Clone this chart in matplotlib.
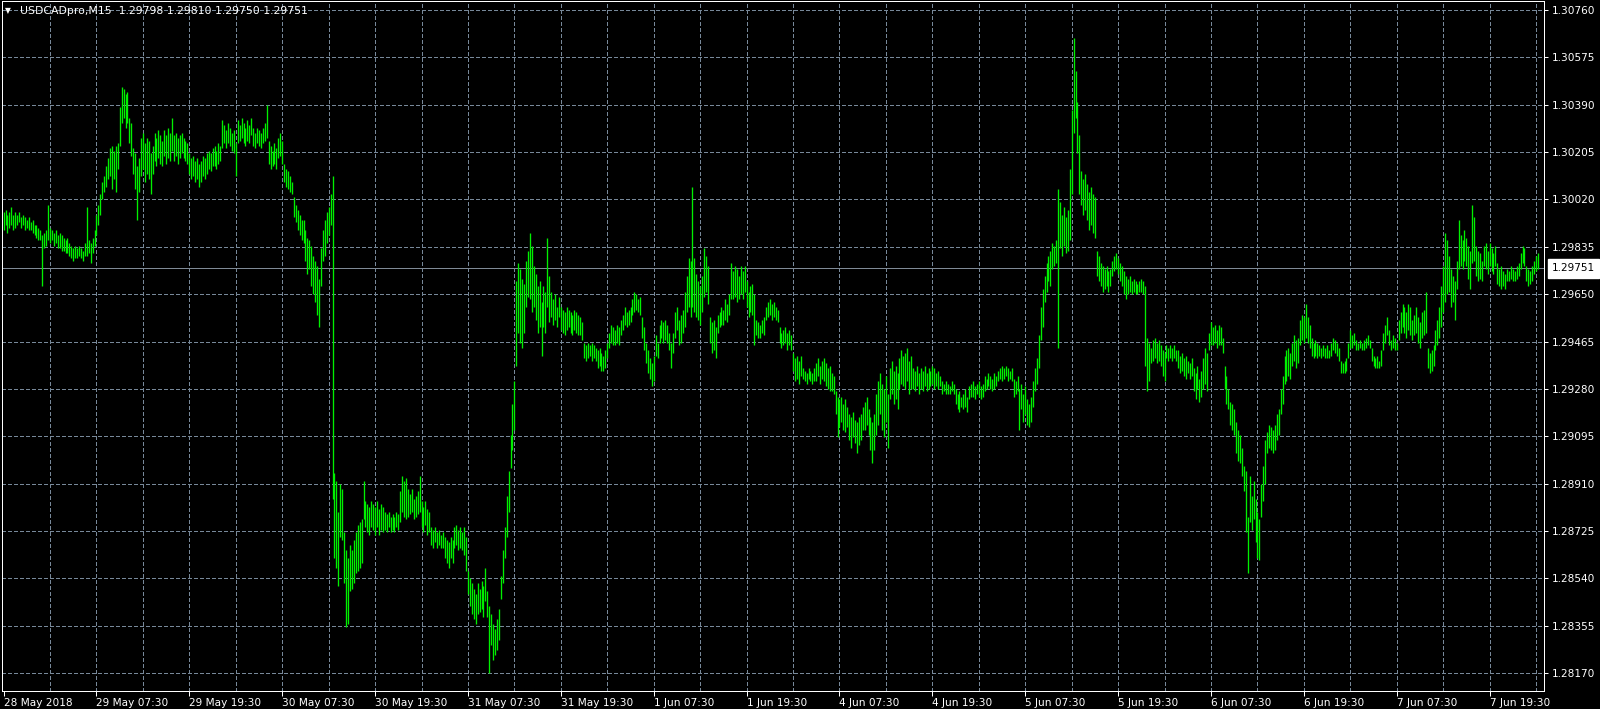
import matplotlib
matplotlib.use('Agg')
import matplotlib.pyplot as plt
import numpy as np
from matplotlib.transforms import blended_transform_factory

# ---------------- data (USDCAD M15 bars) ----------------
high = [
1.2997,1.2998,1.2996,1.2997,1.2999,1.2996,1.2997,1.2996,1.2997,1.2995,
1.2996,1.2995,1.2994,1.2995,1.2993,1.2994,1.2992,1.2992,1.2991,1.2990,
1.2988,1.2989,1.2990,1.3000,1.2991,1.2990,1.2989,1.2990,1.2988,1.2989,
1.2988,1.2987,1.2986,1.2987,1.2985,1.2984,1.2983,1.2984,1.2983,1.2984,
1.2983,1.2982,1.2985,1.2999,1.2986,1.2985,1.2987,1.2990,1.2996,1.3000,
1.3004,1.3009,1.3011,1.3015,1.3018,1.3022,1.3023,1.3021,1.3023,1.3024,
1.3038,1.3046,1.3045,1.3043,1.3044,1.3034,1.3032,1.3022,1.3020,1.3015,
1.3018,1.3026,1.3028,1.3024,1.3026,1.3025,1.3020,1.3023,1.3028,1.3026,
1.3029,1.3027,1.3025,1.3029,1.3027,1.3030,1.3028,1.3034,1.3027,1.3028,
1.3026,1.3027,1.3028,1.3026,1.3025,1.3024,1.3020,1.3018,1.3019,1.3017,
1.3018,1.3016,1.3017,1.3019,1.3018,1.3020,1.3021,1.3020,1.3022,1.3023,
1.3021,1.3024,1.3023,1.3033,1.3031,1.3029,1.3032,1.3030,1.3028,1.3029,
1.3024,1.3033,1.3031,1.3034,1.3032,1.3030,1.3033,1.3031,1.3034,1.3030,
1.3028,1.3030,1.3029,1.3028,1.3030,1.3032,1.3039,1.3025,1.3023,1.3021,
1.3024,1.3022,1.3026,1.3028,1.3025,1.3016,1.3014,1.3013,1.3011,1.3009,
1.3003,1.3000,1.2998,1.2996,1.2994,1.2994,1.2990,1.2987,1.2986,1.2984,
1.2980,1.2978,1.2976,1.2971,1.2983,1.2990,1.2994,1.2997,1.2999,1.3004,
1.3011,1.2895,1.2892,1.2880,1.2891,1.2889,1.2872,1.2865,1.2862,1.2867,
1.2865,1.2869,1.2872,1.2875,1.2876,1.2877,1.2892,1.2884,1.2883,1.2882,
1.2884,1.2883,1.2882,1.2884,1.2881,1.2883,1.2882,1.2880,1.2879,1.2880,
1.2878,1.2879,1.2878,1.2880,1.2879,1.2888,1.2894,1.2892,1.2893,1.2889,
1.2887,1.2889,1.2885,1.2886,1.2888,1.2894,1.2884,1.2882,1.2884,1.2881,
1.2880,1.2874,1.2873,1.2874,1.2872,1.2873,1.2871,1.2872,1.2870,1.2869,
1.2868,1.2870,1.2869,1.2874,1.2875,1.2873,1.2874,1.2872,1.2874,1.2870,
1.2857,1.2854,1.2852,1.2850,1.2848,1.2852,1.2850,1.2853,1.2851,1.2858,
1.2849,1.2843,1.2840,1.2836,1.2834,1.2838,1.2842,1.2855,1.2865,1.2874,
1.2886,1.2896,1.2910,1.2922,1.2931,1.2970,1.2977,1.2975,1.2971,1.2969,
1.2978,1.2982,1.2989,1.2984,1.2976,1.2973,1.2968,1.2970,1.2962,1.2968,
1.2966,1.2987,1.2972,1.2966,1.2963,1.2965,1.2960,1.2964,1.2960,1.2959,
1.2958,1.2960,1.2959,1.2958,1.2957,1.2959,1.2958,1.2957,1.2956,1.2954,
1.2946,1.2945,1.2946,1.2945,1.2946,1.2945,1.2944,1.2943,1.2944,1.2942,
1.2941,1.2943,1.2946,1.2950,1.2953,1.2952,1.2951,1.2953,1.2952,1.2955,
1.2957,1.2960,1.2958,1.2959,1.2960,1.2963,1.2966,1.2965,1.2963,1.2964,
1.2956,1.2952,1.2946,1.2943,1.2940,1.2938,1.2941,1.2949,1.2946,1.2953,
1.2955,1.2954,1.2955,1.2953,1.2950,1.2946,1.2950,1.2958,1.2960,1.2955,
1.2957,1.2959,1.2966,1.2972,1.2979,1.2978,1.3007,1.2979,1.2973,1.2970,
1.2968,1.2972,1.2983,1.2980,1.2976,1.2956,1.2954,1.2955,1.2952,1.2957,
1.2958,1.2960,1.2959,1.2963,1.2961,1.2965,1.2977,1.2974,1.2976,1.2975,
1.2972,1.2976,1.2974,1.2976,1.2970,1.2966,1.2968,1.2969,1.2965,1.2955,
1.2954,1.2953,1.2955,1.2956,1.2960,1.2962,1.2963,1.2961,1.2962,1.2960,
1.2959,1.2952,1.2950,1.2951,1.2952,1.2950,1.2951,1.2949,1.2942,1.2940,
1.2941,1.2939,1.2941,1.2936,1.2935,1.2934,1.2936,1.2935,1.2934,1.2936,
1.2938,1.2940,1.2937,1.2939,1.2940,1.2938,1.2936,1.2937,1.2934,1.2933,
1.2927,1.2925,1.2924,1.2925,1.2922,1.2924,1.2921,1.2918,1.2917,1.2919,
1.2916,1.2915,1.2917,1.2918,1.2921,1.2923,1.2925,1.2920,1.2917,1.2915,
1.2918,1.2926,1.2931,1.2934,1.2930,1.2928,1.2933,1.2926,1.2936,1.2939,
1.2935,1.2937,1.2934,1.2940,1.2943,1.2941,1.2942,1.2944,1.2939,1.2941,
1.2936,1.2935,1.2937,1.2934,1.2936,1.2935,1.2937,1.2934,1.2936,1.2935,
1.2937,1.2936,1.2934,1.2935,1.2933,1.2931,1.2930,1.2931,1.2930,1.2929,
1.2931,1.2930,1.2928,1.2926,1.2927,1.2925,1.2926,1.2928,1.2925,1.2929,
1.2930,1.2931,1.2929,1.2930,1.2931,1.2929,1.2930,1.2933,1.2932,1.2934,
1.2933,1.2932,1.2934,1.2933,1.2935,1.2936,1.2937,1.2936,1.2937,1.2936,
1.2935,1.2936,1.2932,1.2931,1.2933,1.2928,1.2930,1.2926,1.2929,1.2924,
1.2922,1.2925,1.2931,1.2936,1.2940,1.2949,1.2960,1.2967,1.2972,1.2977,
1.2980,1.2982,1.2985,1.2984,1.2986,1.3006,1.3001,1.2996,1.2999,1.2995,
1.2998,1.3014,1.3037,1.3065,1.3052,1.3040,1.3027,1.3013,1.3010,1.3012,
1.3008,1.3005,1.3007,1.3004,1.3003,1.2982,1.2980,1.2977,1.2976,1.2975,
1.2976,1.2974,1.2975,1.2978,1.2980,1.2981,1.2979,1.2977,1.2976,1.2974,
1.2972,1.2971,1.2972,1.2970,1.2971,1.2970,1.2969,1.2970,1.2971,1.2970,
1.2968,1.2948,1.2946,1.2944,1.2947,1.2948,1.2946,1.2947,1.2945,1.2943,
1.2942,1.2945,1.2944,1.2945,1.2944,1.2945,1.2943,1.2943,1.2941,1.2942,
1.2940,1.2941,1.2939,1.2938,1.2940,1.2936,1.2934,1.2937,1.2932,1.2935,
1.2940,1.2944,1.2942,1.2950,1.2954,1.2952,1.2953,1.2951,1.2953,1.2952,
1.2948,1.2937,1.2933,1.2928,1.2923,1.2922,1.2920,1.2915,1.2912,1.2910,
1.2905,1.2898,1.2896,1.2878,1.2894,1.2886,1.2892,1.2885,1.2880,1.2877,
1.2891,1.2898,1.2908,1.2911,1.2914,1.2913,1.2912,1.2914,1.2918,1.2920,
1.2928,1.2933,1.2941,1.2943,1.2944,1.2942,1.2946,1.2949,1.2947,1.2948,
1.2955,1.2957,1.2956,1.2961,1.2956,1.2953,1.2948,1.2946,1.2947,1.2946,
1.2945,1.2944,1.2945,1.2944,1.2945,1.2943,1.2946,1.2948,1.2947,1.2946,
1.2944,1.2939,1.2938,1.2939,1.2940,1.2946,1.2951,1.2949,1.2950,1.2947,
1.2946,1.2947,1.2946,1.2947,1.2948,1.2949,1.2947,1.2944,1.2941,1.2940,
1.2941,1.2939,1.2943,1.2950,1.2953,1.2956,1.2951,1.2947,1.2949,1.2948,
1.2946,1.2955,1.2958,1.2961,1.2960,1.2958,1.2961,1.2960,1.2955,1.2957,
1.2960,1.2956,1.2954,1.2958,1.2959,1.2966,1.2944,1.2942,1.2943,1.2945,
1.2951,1.2955,1.2960,1.2968,1.2976,1.2989,1.2986,1.2980,1.2975,1.2972,
1.2970,1.2978,1.2994,1.2988,1.2986,1.2990,1.2987,1.2984,1.2982,1.3000,
1.2995,1.2984,1.2982,1.2981,1.2978,1.2984,1.2985,1.2982,1.2985,1.2983,
1.2981,1.2984,1.2977,1.2975,1.2976,1.2974,1.2973,1.2975,1.2974,1.2976,
1.2975,1.2974,1.2976,1.2977,1.2981,1.2984,1.2983,1.2976,1.2975,1.2974,
1.2976,1.2978,1.2980,1.2981,
]
low = [
1.2990,1.2992,1.2989,1.2991,1.2992,1.2990,1.2991,1.2992,1.2993,1.2991,
1.2992,1.2990,1.2991,1.2990,1.2990,1.2989,1.2988,1.2987,1.2986,1.2986,
1.2968,1.2983,1.2984,1.2986,1.2985,1.2986,1.2984,1.2985,1.2983,1.2983,
1.2982,1.2982,1.2981,1.2981,1.2980,1.2979,1.2978,1.2979,1.2979,1.2980,
1.2979,1.2978,1.2980,1.2980,1.2981,1.2977,1.2981,1.2984,1.2988,1.2992,
1.2996,1.3002,1.3005,1.3007,1.3010,1.3011,1.3006,1.3010,1.3005,1.3014,
1.3023,1.3032,1.3034,1.3030,1.3032,1.3024,1.3019,1.3012,1.3006,1.2994,
1.3005,1.3011,1.3014,1.3009,1.3012,1.3010,1.3004,1.3012,1.3017,1.3015,
1.3018,1.3016,1.3015,1.3019,1.3016,1.3018,1.3017,1.3021,1.3017,1.3019,
1.3016,1.3018,1.3020,1.3018,1.3017,1.3016,1.3012,1.3010,1.3011,1.3009,
1.3010,1.3007,1.3009,1.3011,1.3010,1.3012,1.3014,1.3013,1.3015,1.3015,
1.3014,1.3016,1.3017,1.3022,1.3024,1.3022,1.3024,1.3023,1.3021,1.3020,
1.3011,1.3024,1.3025,1.3026,1.3024,1.3023,1.3025,1.3024,1.3027,1.3023,
1.3022,1.3024,1.3023,1.3022,1.3024,1.3025,1.3026,1.3016,1.3014,1.3015,
1.3016,1.3014,1.3018,1.3019,1.3016,1.3009,1.3007,1.3006,1.3005,1.3004,
1.2995,1.2993,1.2990,1.2988,1.2986,1.2985,1.2978,1.2973,1.2975,1.2968,
1.2965,1.2962,1.2957,1.2952,1.2968,1.2978,1.2980,1.2985,1.2988,1.2992,
1.2885,1.2862,1.2858,1.2851,1.2870,1.2869,1.2852,1.2835,1.2836,1.2849,
1.2850,1.2852,1.2856,1.2857,1.2858,1.2860,1.2877,1.2874,1.2872,1.2871,
1.2874,1.2873,1.2871,1.2874,1.2871,1.2873,1.2872,1.2873,1.2872,1.2874,
1.2872,1.2873,1.2872,1.2874,1.2873,1.2876,1.2880,1.2878,1.2877,1.2878,
1.2879,1.2880,1.2877,1.2878,1.2879,1.2880,1.2874,1.2872,1.2875,1.2871,
1.2872,1.2867,1.2866,1.2868,1.2866,1.2867,1.2866,1.2866,1.2862,1.2860,
1.2858,1.2862,1.2860,1.2866,1.2867,1.2865,1.2866,1.2865,1.2863,1.2857,
1.2848,1.2843,1.2840,1.2838,1.2836,1.2840,1.2841,1.2842,1.2839,1.2845,
1.2839,1.2817,1.2828,1.2822,1.2824,1.2826,1.2830,1.2846,1.2852,1.2862,
1.2870,1.2880,1.2897,1.2904,1.2912,1.2937,1.2950,1.2946,1.2944,1.2950,
1.2960,1.2964,1.2963,1.2958,1.2960,1.2955,1.2950,1.2952,1.2941,1.2952,
1.2950,1.2960,1.2954,1.2956,1.2953,1.2955,1.2952,1.2956,1.2951,1.2950,
1.2949,1.2951,1.2952,1.2950,1.2949,1.2951,1.2950,1.2949,1.2949,1.2947,
1.2940,1.2939,1.2940,1.2941,1.2939,1.2940,1.2939,1.2936,1.2937,1.2935,
1.2935,1.2936,1.2940,1.2944,1.2946,1.2945,1.2945,1.2946,1.2945,1.2949,
1.2951,1.2953,1.2952,1.2953,1.2954,1.2957,1.2958,1.2959,1.2958,1.2957,
1.2948,1.2943,1.2938,1.2934,1.2932,1.2929,1.2931,1.2941,1.2940,1.2946,
1.2948,1.2946,1.2947,1.2946,1.2943,1.2936,1.2942,1.2948,1.2951,1.2945,
1.2946,1.2950,1.2952,1.2958,1.2960,1.2956,1.2960,1.2958,1.2956,1.2955,
1.2953,1.2958,1.2964,1.2966,1.2961,1.2946,1.2942,1.2943,1.2940,1.2950,
1.2952,1.2953,1.2953,1.2955,1.2954,1.2957,1.2963,1.2963,1.2964,1.2962,
1.2963,1.2965,1.2963,1.2966,1.2960,1.2956,1.2958,1.2957,1.2945,1.2949,
1.2948,1.2948,1.2950,1.2949,1.2955,1.2956,1.2957,1.2955,1.2956,1.2955,
1.2954,1.2946,1.2944,1.2945,1.2946,1.2943,1.2945,1.2943,1.2935,1.2931,
1.2932,1.2930,1.2933,1.2932,1.2931,1.2930,1.2932,1.2931,1.2930,1.2931,
1.2931,1.2933,1.2930,1.2932,1.2931,1.2929,1.2928,1.2927,1.2927,1.2926,
1.2918,1.2909,1.2913,1.2915,1.2912,1.2911,1.2913,1.2908,1.2905,1.2909,
1.2907,1.2903,1.2906,1.2908,1.2912,1.2912,1.2914,1.2910,1.2904,1.2899,
1.2904,1.2910,1.2914,1.2918,1.2912,1.2909,1.2915,1.2905,1.2924,1.2926,
1.2922,1.2924,1.2920,1.2928,1.2930,1.2929,1.2928,1.2931,1.2926,1.2928,
1.2928,1.2927,1.2929,1.2926,1.2928,1.2927,1.2929,1.2927,1.2928,1.2929,
1.2930,1.2928,1.2929,1.2928,1.2929,1.2926,1.2927,1.2926,1.2926,1.2926,
1.2927,1.2926,1.2922,1.2920,1.2919,1.2921,1.2920,1.2921,1.2919,1.2924,
1.2925,1.2925,1.2924,1.2926,1.2925,1.2924,1.2925,1.2927,1.2928,1.2929,
1.2928,1.2927,1.2928,1.2929,1.2931,1.2932,1.2931,1.2932,1.2933,1.2931,
1.2932,1.2931,1.2925,1.2926,1.2927,1.2912,1.2920,1.2915,1.2918,1.2914,
1.2913,1.2915,1.2921,1.2927,1.2930,1.2936,1.2947,1.2952,1.2962,1.2966,
1.2970,1.2968,1.2975,1.2976,1.2977,1.2944,1.2983,1.2980,1.2984,1.2981,
1.2982,1.2986,1.3004,1.3028,1.3034,1.3020,1.3004,1.3000,1.2996,1.2998,
1.2994,1.2990,1.2992,1.2989,1.2987,1.2972,1.2970,1.2968,1.2966,1.2967,
1.2968,1.2966,1.2968,1.2972,1.2974,1.2975,1.2973,1.2970,1.2968,1.2965,
1.2963,1.2965,1.2966,1.2965,1.2966,1.2965,1.2965,1.2966,1.2966,1.2965,
1.2937,1.2927,1.2931,1.2938,1.2939,1.2940,1.2938,1.2939,1.2937,1.2933,
1.2931,1.2940,1.2939,1.2940,1.2939,1.2940,1.2939,1.2936,1.2934,1.2935,
1.2933,1.2932,1.2934,1.2932,1.2933,1.2927,1.2924,1.2928,1.2923,1.2925,
1.2928,1.2930,1.2927,1.2943,1.2945,1.2945,1.2946,1.2944,1.2945,1.2945,
1.2942,1.2928,1.2922,1.2920,1.2914,1.2912,1.2910,1.2903,1.2900,1.2899,
1.2894,1.2888,1.2872,1.2856,1.2876,1.2873,1.2877,1.2868,1.2862,1.2861,
1.2878,1.2884,1.2891,1.2903,1.2905,1.2904,1.2903,1.2904,1.2908,1.2910,
1.2918,1.2922,1.2930,1.2931,1.2933,1.2932,1.2937,1.2939,1.2936,1.2938,
1.2945,1.2947,1.2946,1.2948,1.2946,1.2944,1.2941,1.2940,1.2941,1.2940,
1.2941,1.2940,1.2941,1.2940,1.2940,1.2940,1.2941,1.2943,1.2942,1.2941,
1.2939,1.2934,1.2934,1.2934,1.2935,1.2940,1.2944,1.2944,1.2945,1.2943,
1.2943,1.2944,1.2943,1.2943,1.2944,1.2945,1.2944,1.2939,1.2937,1.2936,
1.2936,1.2936,1.2937,1.2943,1.2946,1.2949,1.2945,1.2943,1.2944,1.2943,
1.2943,1.2947,1.2950,1.2952,1.2950,1.2948,1.2951,1.2949,1.2947,1.2949,
1.2950,1.2946,1.2944,1.2948,1.2949,1.2950,1.2936,1.2934,1.2935,1.2937,
1.2943,1.2945,1.2948,1.2952,1.2958,1.2962,1.2965,1.2966,1.2960,1.2962,
1.2955,1.2967,1.2975,1.2976,1.2975,1.2978,1.2976,1.2971,1.2967,1.2977,
1.2978,1.2972,1.2970,1.2971,1.2970,1.2976,1.2975,1.2973,1.2976,1.2974,
1.2973,1.2976,1.2969,1.2968,1.2967,1.2968,1.2967,1.2970,1.2970,1.2971,
1.2970,1.2970,1.2971,1.2972,1.2975,1.2977,1.2976,1.2970,1.2968,1.2969,
1.2970,1.2973,1.2974,1.2975,
]

price_levels = [1.28170, 1.28355, 1.28540, 1.28725, 1.28910, 1.29095, 1.29280,
                1.29465, 1.29650, 1.29835, 1.30020, 1.30205, 1.30390, 1.30575, 1.30760]
time_labels = ["28 May 2018", "29 May 07:30", "29 May 19:30", "30 May 07:30",
               "30 May 19:30", "31 May 07:30", "31 May 19:30", "1 Jun 07:30",
               "1 Jun 19:30", "4 Jun 07:30", "4 Jun 19:30", "5 Jun 07:30",
               "5 Jun 19:30", "6 Jun 07:30", "6 Jun 19:30", "7 Jun 07:30",
               "7 Jun 19:30"]
last_price = 1.29751
header = "USDCADpro,M15  1.29798 1.29810 1.29750 1.29751"

# ---------------- drawing ----------------
plt.rcParams['font.family'] = ['DejaVu Sans']
plt.rcParams['lines.scale_dashes'] = False

W, H = 1600, 709
fig = plt.figure(figsize=(16, 7.09), dpi=100, facecolor='black')
ax = fig.add_axes([2 / W, 18 / H, 1542 / W, 690 / H], facecolor='black')

n = min(len(high), len(low))
x = np.arange(n)
hi = np.array(high[:n])
lo = np.array(low[:n])

step = (price_levels[-1] - price_levels[0]) / 663.0
ax.set_ylim(price_levels[0] - 18 * step, price_levels[-1] + 9 * step)
ax.set_xlim(-0.83, 796.1)

grid_col = '#778899'
dash = (0, (2.2, 2.0))
for lv in price_levels:
    ax.axhline(lv, color=grid_col, lw=0.72, ls=dash, zorder=1, antialiased=False)
for b in range(24, n + 1, 24):
    ax.axvline(b, color=grid_col, lw=0.72, ls=dash, zorder=1, antialiased=False)

ax.axhline(last_price, color='#7f8a96', lw=0.6, zorder=2, antialiased=False)

ax.vlines(x, lo, hi, colors='#00f000', lw=0.95, antialiased=True, zorder=3)

# axes / ticks
for sp in ax.spines.values():
    sp.set_color('white')
    sp.set_linewidth(0.72)
ax.yaxis.tick_right()
ax.set_yticks(price_levels)
ax.set_yticklabels([f'{v:.5f}' for v in price_levels])
ax.tick_params(axis='y', colors='white', length=3, width=0.72, pad=3,
               labelsize=7.6, direction='out')
label_pos = list(range(0, 48 * len(time_labels), 48))
ax.set_xticks(label_pos)
ax.set_xticklabels(time_labels, ha='left')
ax.tick_params(axis='x', colors='white', length=3.5, width=0.72, pad=1.5,
               labelsize=7.6, direction='out')

# current price label
tr = blended_transform_factory(ax.transAxes, ax.transData)
ax.text(1 + 8 / 1542, last_price, f'{last_price:.5f}', transform=tr, color='black',
        fontsize=7.6, va='center', ha='left', clip_on=False, zorder=10,
        bbox=dict(boxstyle='square,pad=0.4', fc='white', ec='white'))

# header
fig.text(5 / W, 1 - 11 / H, '\u25BC', color='white', fontsize=5.5, va='center', ha='left')
fig.text(20 / W, 1 - 11 / H, header, color='white', fontsize=7.8, va='center', ha='left')

fig.savefig('out.png', dpi=100, facecolor='black')
